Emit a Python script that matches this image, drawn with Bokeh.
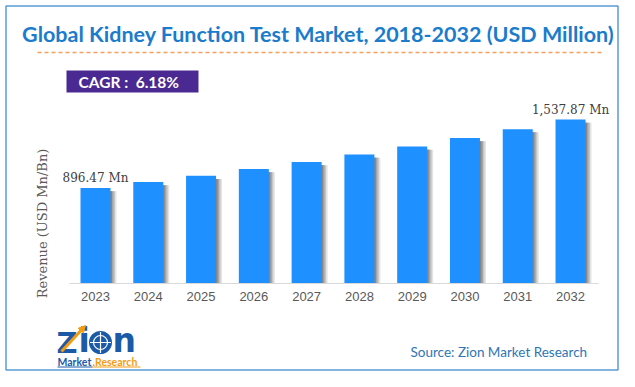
import math
from bokeh.plotting import figure
from bokeh.models import (ColumnDataSource, Range1d, Label, Arrow, NormalHead,
                          FixedTicker, LinearAxis)
from bokeh.transform import dodge
from bokeh.core.properties import value
from bokeh.embed import file_html
from bokeh.resources import INLINE

# ---- data ----
years = ["2023", "2024", "2025", "2026", "2027", "2028", "2029", "2030", "2031", "2032"]
revenue = [896.47, 952.0, 1011.0, 1073.0, 1140.0, 1210.0, 1285.0, 1364.0, 1448.0, 1537.87]
value_labels = ["896.47 Mn", "", "", "", "", "", "", "", "", "1,537.87 Mn"]
title_text = "Global Kidney Function Test Market, 2018-2032 (USD Million)"
cagr_text = "CAGR :\u00a0 6.18%"
y_label = "Revenue (USD Mn/Bn)"
source_text = "Source: Zion Market Research"

W, H = 619, 371
X0, KX = 95.0, 52.78      # pixel of first bar centre, pixels per year
Y0, KY = 283.0, 0.1066    # pixel of baseline, pixels per USD Mn


def dx(X):
    return (X - X0) / KX


def dy(Y):
    return (Y0 - Y) / KY


idx = list(range(len(years)))
src = ColumnDataSource(dict(
    x=idx,
    value=revenue,
    shadow_top=[v - 30 for v in revenue],
    label=value_labels,
))

p = figure(width=W, height=H, output_backend="svg", toolbar_location=None,
           x_range=Range1d(dx(0), dx(W)), y_range=Range1d(dy(H), dy(0)),
           x_axis_location=None, y_axis_location=None,
           min_border=0, background_fill_color="white",
           border_fill_color="white", outline_line_color=None)
p.xgrid.visible = False
p.ygrid.visible = False

ax = LinearAxis(ticker=FixedTicker(ticks=idx),
                major_label_overrides={i: y for i, y in zip(idx, years)},
                fixed_location=0, bounds=(dx(69), dx(598)))
ax.axis_line_color = "#d9d9d9"
ax.major_tick_line_color = None
ax.minor_tick_line_color = None
ax.major_tick_in = 0
ax.major_tick_out = 0
ax.major_label_text_font = "Liberation Sans"
ax.major_label_text_font_size = "13px"
ax.major_label_text_color = "#595959"
ax.major_label_standoff = 8
p.add_layout(ax, "below")

# outer border
p.quad(left=dx(5.5), right=dx(617.5), top=dy(5.5), bottom=dy(369.5),
       fill_color=None, line_color="#5b9bd5", line_width=1.5)

# bar shadows (soft grey gradient to the right of each bar)
for off, col in [(6, "#e4e4e4"), (4.5, "#c6c6c6"), (3, "#a4a4a4"), (1.5, "#858585")]:
    p.vbar(x=dodge("x", off / KX), top="shadow_top", width=30 / KX, source=src,
           fill_color=col, line_color=None)

p.vbar(x="x", top="value", width=30 / KX, source=src,
       fill_color="#1e90ff", line_color=None)

p.text(x="x", y="value", text="label", source=src, y_offset=-10,
       text_align="center", text_baseline="alphabetic",
       text_font=value("DejaVu Serif"), text_font_size="12px", text_color="#404040")

# title and dashed rule
p.add_layout(Label(x=dx(318), y=dy(33), text=title_text, text_align="center",
                   text_baseline="middle", text_font="Lato", text_font_style="bold",
                   text_font_size="21.5px", text_color="#1b7ccc"))
p.line(x=[dx(37), dx(604)], y=[dy(52), dy(52)], line_color="#f4a15d",
       line_width=1.5, line_dash="4 3")

# CAGR box
p.quad(left=dx(66), right=dx(198), top=dy(70), bottom=dy(92),
       fill_color="#4a2a92", line_color=None)
p.add_layout(Label(x=dx(78), y=dy(81.5), text=cagr_text, text_align="left",
                   text_baseline="middle", text_font="Lato", text_font_style="bold",
                   text_font_size="15.5px", text_color="white"))

# y axis title
p.add_layout(Label(x=dx(42), y=dy(223), text=y_label, angle=math.pi / 2,
                   text_align="center", text_baseline="middle",
                   text_font="DejaVu Serif", text_font_size="13px",
                   text_color="#595959"))

# logo
logo_blue = "#1b5aa6"
logo_orange = "#f39c12"
p.add_layout(Label(x=dx(56), y=dy(342), text="Z", text_align="left",
                   text_baseline="middle", text_font="DejaVu Sans",
                   text_font_style="bold", text_font_size="29px", text_color=logo_blue))
p.add_layout(Label(x=dx(78), y=dy(340), text="i", text_align="left",
                   text_baseline="middle", text_font="DejaVu Sans",
                   text_font_style="bold", text_font_size="33px", text_color=logo_blue))
p.scatter(x=[dx(100)], y=[dy(342)], size=23, marker="circle",
          fill_color=logo_blue, line_color=None)
p.scatter(x=[dx(100)], y=[dy(342)], size=14, marker="circle",
          fill_color=None, line_color="white", line_width=1.2)
p.line(x=[dx(89.5), dx(110.5)], y=[dy(342), dy(342)], line_color="white", line_width=1.2)
p.line(x=[dx(100), dx(100)], y=[dy(331.5), dy(352.5)], line_color="white", line_width=1.2)
p.add_layout(Label(x=dx(112), y=dy(340), text="n", text_align="left",
                   text_baseline="middle", text_font="DejaVu Sans",
                   text_font_style="bold", text_font_size="33px", text_color=logo_blue))
p.add_layout(Arrow(x_start=dx(61), y_start=dy(351), x_end=dx(85), y_end=dy(325),
                   line_color=logo_orange, line_width=3,
                   end=NormalHead(size=7, fill_color=logo_orange, line_color=logo_orange)))
p.add_layout(Label(x=dx(57), y=dy(361), text="Market", text_align="left",
                   text_baseline="middle", text_font="Lato", text_font_style="bold",
                   text_font_size="10.5px", text_color=logo_blue))
p.add_layout(Label(x=dx(92), y=dy(361), text=".Research", text_align="left",
                   text_baseline="middle", text_font="Lato", text_font_style="bold",
                   text_font_size="10.5px", text_color=logo_orange))
p.line(x=[dx(57), dx(92)], y=[dy(366.5), dy(366.5)], line_color=logo_blue, line_width=1)
p.line(x=[dx(92), dx(140)], y=[dy(366.5), dy(366.5)], line_color=logo_orange, line_width=1)

# source
p.add_layout(Label(x=dx(410), y=dy(351), text=source_text, text_align="left",
                   text_baseline="middle", text_font="Lato", text_font_size="13.5px",
                   text_color="#2e75b6"))

open("out.html", "w").write(file_html(p, INLINE))
